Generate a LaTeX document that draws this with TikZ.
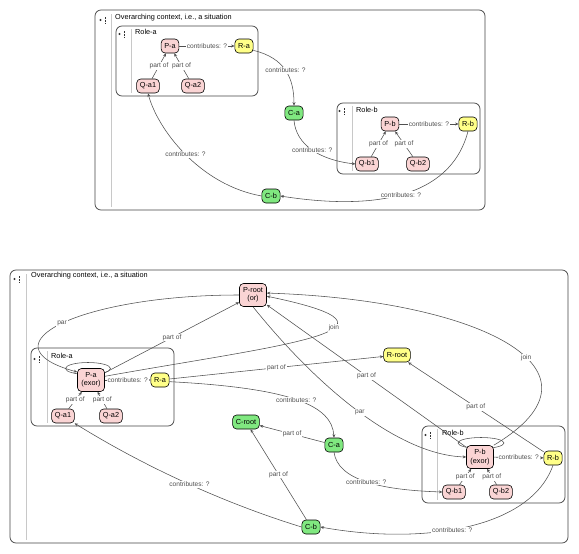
\documentclass[tikz,border=0pt]{standalone}
\usepackage{fontspec}
\setmainfont{Liberation Sans}
\usetikzlibrary{arrows.meta}
\definecolor{pinkf}{RGB}{250,212,212}
\definecolor{yellowf}{RGB}{255,255,136}
\definecolor{greenf}{RGB}{128,232,128}
\definecolor{edgec}{RGB}{80,80,80}
\definecolor{boxc}{RGB}{70,70,70}
\definecolor{sepc}{RGB}{200,200,200}
\tikzset{iconmark/.pic={
  \fill[black!80] (-2.5,0) circle [radius=1.1];
  \draw[black!80, line width=0.7pt, dash pattern=on 0.7pt off 0.7pt] (2,-3) -- (2,3.2);
}}
\begin{document}
\begin{tikzpicture}[x=1pt,y=-1pt,
  nb/.style={draw=black, line width=0.6pt, rounded corners=4pt, inner xsep=3.2pt, inner ysep=0pt,
    minimum height=14pt, font=\fontsize{7.3}{8.3}\selectfont, align=center},
  pn/.style={nb, fill=pinkf},
  yn/.style={nb, fill=yellowf},
  gn/.style={nb, fill=greenf},
  tall/.style={minimum height=23pt, minimum width=27pt},
  edge/.style={draw=edgec, line width=0.55pt, -{Stealth[length=3.5pt,width=3pt]}},
  loopline/.style={draw=edgec, line width=0.55pt},
  lbl/.style={fill=white, inner sep=0.8pt, text=edgec, font=\fontsize{6.6}{7}\selectfont},
  frame/.style={draw=boxc, line width=0.75pt, rounded corners=6pt},
  sep/.style={draw=sepc, line width=0.6pt},
  ttl/.style={anchor=west, font=\fontsize{7.3}{8}\selectfont, inner sep=0pt},
]
\useasboundingbox (0,0) rectangle (579,554);
\fill[white] (0,0) rectangle (579,554);

% ================= TOP DIAGRAM =================
\draw[frame] (95,10) rectangle (485,210);
\draw[sep] (111,14) -- (111,207);
\pic at (103,20) {iconmark};
\node[ttl] (t1) at (115,18) {Overarching context, i.e., a situation};

\draw[frame] (116,26) rectangle (258,96);
\draw[sep] (131,29) -- (131,93);
\pic at (122,34) {iconmark};
\node[ttl] (t2) at (135,32) {Role-a};

\draw[frame] (337,103) rectangle (480,174);
\draw[sep] (352,106) -- (352,171);
\pic at (342,111) {iconmark};
\node[ttl] (t3) at (356,110) {Role-b};

\node[pn] (pa1) at (170,46) {P-a};
\node[yn] (ra1) at (244,46) {R-a};
\node[pn] (qa11) at (148,86) {Q-a1};
\node[pn] (qa21) at (193,86) {Q-a2};
\node[gn] (ca1) at (294,113) {C-a};
\node[gn] (cb1) at (271,196) {C-b};
\node[pn] (pb1) at (390,124) {P-b};
\node[yn] (rb1) at (468,124) {R-b};
\node[pn] (qb11) at (367,164) {Q-b1};
\node[pn] (qb21) at (418,164) {Q-b2};

\draw[edge] (pa1) -- node[lbl]{contributes: ?} (ra1);
\draw[edge] (qa11) -- node[lbl]{part of} (pa1);
\draw[edge] (qa21) -- node[lbl]{part of} (pa1);
\draw[edge] (ra1.-25) .. controls (285,58) and (294,78) .. node[lbl]{contributes: ?} (ca1.north);
\draw[edge] (ca1.south) .. controls (296,145) and (320,160) .. node[lbl]{contributes: ?} (qb11.west);
\draw[edge] (pb1) -- node[lbl]{contributes: ?} (rb1);
\draw[edge] (qb11) -- node[lbl]{part of} (pb1);
\draw[edge] (qb21) -- node[lbl]{part of} (pb1);
\draw[edge] (rb1.south) .. controls (450,200) and (370,210) .. node[lbl]{contributes: ?} (cb1.east);
\draw[edge] (cb1.west) .. controls (200,185) and (158,130) .. node[lbl]{contributes: ?} (qa11.south);

% ================= BOTTOM DIAGRAM =================
\draw[frame] (10,270) rectangle (568,543);
\draw[sep] (26,274) -- (26,540);
\pic at (17,279) {iconmark};
\node[ttl] (t4) at (31,276) {Overarching context, i.e., a situation};

\draw[frame] (31,348) rectangle (174,426);
\draw[sep] (47,351) -- (47,423);
\pic at (37,359) {iconmark};
\node[ttl] (t5) at (51,356) {Role-a};

\draw[frame] (422,426) rectangle (565,503);
\draw[sep] (437,429) -- (437,500);
\pic at (428,435) {iconmark};
\node[ttl] (t6) at (442,433) {Role-b};

% self loops
\draw[loopline] (88,368.5) ellipse [x radius=22.5, y radius=6];
\draw[loopline] (481,443) ellipse [x radius=23, y radius=5.5];

\node[pn, tall] (proot) at (253,295) {P-root\\(or)};
\node[pn, tall] (pa2) at (91,380) {P-a\\(exor)};
\node[yn] (ra2) at (160,380) {R-a};
\node[pn] (qa12) at (63,416) {Q-a1};
\node[pn] (qa22) at (111,416) {Q-a2};
\node[yn] (rroot) at (397,355) {R-root};
\node[gn] (croot) at (246,422) {C-root};
\node[gn] (ca2) at (334,445) {C-a};
\node[gn] (cb2) at (311,527) {C-b};
\node[pn, tall] (pb2) at (480,457) {P-b\\(exor)};
\node[yn] (rb2) at (553,458) {R-b};
\node[pn] (qb12) at (454,492) {Q-b1};
\node[pn] (qb22) at (501,492) {Q-b2};

\draw[edge] (pa2) -- node[lbl]{contributes: ?} (ra2);
\draw[edge] (qa12) -- node[lbl]{part of} (pa2);
\draw[edge] (qa22) -- node[lbl]{part of} (pa2);
\draw[edge] (pa2) -- node[lbl]{part of} (proot);
\draw[edge] (proot.west) .. controls (80,295) and (-20,345) .. node[lbl]{par} (pa2.150);
\draw[edge] (pa2.15) .. controls (280,345) and (430,330) .. node[lbl,pos=0.63]{join} (proot.-5);
\draw[edge] (ra2) -- node[lbl]{part of} (rroot);
\draw[edge] (ra2.-10) .. controls (290,388) and (332,405) .. node[lbl]{contributes: ?} (ca2.north);
\draw[edge] (ca2) -- node[lbl]{part of} (croot);
\draw[edge] (ca2.south) .. controls (338,480) and (380,490) .. node[lbl]{contributes: ?} (qb12.west);
\draw[edge] (cb2) -- node[lbl]{part of} (croot);
\draw[edge] (cb2.west) .. controls (230,505) and (150,470) .. node[lbl]{contributes: ?} (qa12.south east);
\draw[edge] (pb2) -- node[lbl]{contributes: ?} (rb2);
\draw[edge] (qb12) -- node[lbl]{part of} (pb2);
\draw[edge] (qb22) -- node[lbl]{part of} (pb2);
\draw[edge] (pb2) -- node[lbl]{part of} (proot);
\draw[edge] (proot.south) .. controls (320,390) and (400,455) .. node[lbl]{par} (pb2.west);
\draw[edge] (pb2.north east) .. controls (620,370) and (480,300) .. node[lbl,pos=0.42]{join} (proot.8);
\draw[edge] (rb2) -- node[lbl]{part of} (rroot);
\draw[edge] (rb2.south) .. controls (530,530) and (420,545) .. node[lbl,pos=0.55]{contributes: ?} (cb2.east);
\end{tikzpicture}
\end{document}
